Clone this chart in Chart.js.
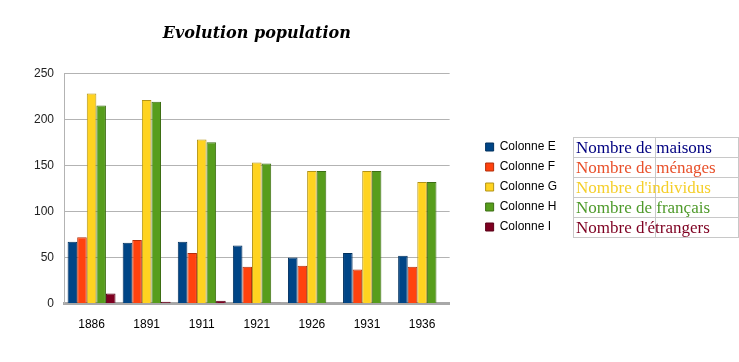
<!DOCTYPE html>
<html>
<head>
<meta charset="utf-8">
<script src="https://cdn.jsdelivr.net/npm/chart.js@4"></script>
<style>
    body { margin: 0; background: #fff; }
    #wrap { position: relative; width: 739px; height: 362px; }
    #infoTable {
        position: absolute; left: 573px; top: 137px;
        border-collapse: collapse;
        font-family: 'Liberation Serif', serif; font-size: 17px;
    }
    #infoTable td {
        border: 1px solid #c8c8c8; height: 19px; padding: 0 0 0 2px;
        white-space: nowrap; line-height: 19px;
    }
    #infoTable td.a { width: 79px; overflow: visible; max-width: 79px; }
    #infoTable td.b { width: 80px; }
</style>
</head>
<body>
<div id="wrap">
    <canvas id="popChart" width="739" height="362"></canvas>
    <table id="infoTable"></table>
</div>
<script>
const years = ['1886', '1891', '1911', '1921', '1926', '1931', '1936'];
const colonneE = [67, 66, 67, 63, 50, 55, 52];
const colonneF = [72, 69, 55, 40, 41, 37, 40];
const colonneG = [228, 221, 178, 153, 144, 144, 132];
const colonneH = [215, 219, 175, 152, 144, 144, 132];
const colonneI = [11, 2, 3, 1, 0, 0, 0];
const seriesNames = ['Colonne E', 'Colonne F', 'Colonne G', 'Colonne H', 'Colonne I'];
const seriesColors = ['#004586', '#ff420e', '#ffd320', '#579d1c', '#7e0021'];
const tableLabels = ['Nombre de maisons', 'Nombre de ménages', "Nombre d'individus", 'Nombre de français', "Nombre d'étrangers"];
const tableColors = ['#000080', '#e8502a', '#f5cf2a', '#4f9a2a', '#7e0021'];

const allSeries = [colonneE, colonneF, colonneG, colonneH, colonneI];

// the little table on the right
const tbl = document.getElementById('infoTable');
tableLabels.forEach(function (txt, i) {
    const tr = document.createElement('tr');
    const td1 = document.createElement('td');
    td1.className = 'a';
    td1.textContent = txt;
    td1.style.color = tableColors[i];
    const td2 = document.createElement('td');
    td2.className = 'b';
    tr.appendChild(td1);
    tr.appendChild(td2);
    tbl.appendChild(tr);
});

function darker(hex) {
    const n = parseInt(hex.slice(1), 16);
    const r = Math.round(((n >> 16) & 255) * 0.7);
    const g = Math.round(((n >> 8) & 255) * 0.7);
    const b = Math.round((n & 255) * 0.7);
    return 'rgb(' + r + ',' + g + ',' + b + ')';
}

const ctx = document.getElementById('popChart');
const popChart = new Chart(ctx, {
    type: 'bar',
    data: {
        labels: years,
        datasets: allSeries.map(function (vals, i) {
            return {
                label: seriesNames[i],
                data: vals,
                backgroundColor: seriesColors[i],
                borderColor: darker(seriesColors[i]),
                borderWidth: 1,
                barPercentage: 1,
                categoryPercentage: 0.87
            };
        })
    },
    options: {
        responsive: false,
        animation: false,
        layout: {
            padding: { left: 24, top: 14, right: 172, bottom: 24 }
        },
        scales: {
            x: {
                grid: { display: false },
                border: { display: true, color: '#a8a8a8', width: 3 },
                ticks: {
                    color: '#000',
                    padding: 6,
                    font: { family: 'Liberation Sans', size: 12 }
                }
            },
            y: {
                min: 0,
                max: 250,
                ticks: {
                    stepSize: 50,
                    color: '#222',
                    padding: 10,
                    font: { family: 'Liberation Sans', size: 12 }
                },
                grid: { color: '#b3b3b3', drawTicks: false },
                border: { display: true, color: '#b3b3b3' }
            },
            gap: {
                position: 'right',
                display: true,
                grid: { display: false },
                border: { display: false },
                ticks: { display: false },
                afterFit: function (scale) { scale.width = 28; }
            }
        },
        plugins: {
            title: {
                display: true,
                text: 'Evolution population',
                fullSize: false,
                color: '#000',
                padding: { top: 10, bottom: 30 },
                font: { family: 'DejaVu Serif', size: 16, weight: 'bold', style: 'italic' }
            },
            legend: {
                display: true,
                position: 'right',
                title: {
                    display: true,
                    text: ' ',
                    padding: { top: 2, bottom: 8 },
                    font: { size: 10 }
                },
                labels: {
                    boxWidth: 8,
                    boxHeight: 8,
                    padding: 8,
                    color: '#000',
                    font: { family: 'Liberation Sans', size: 12 }
                }
            },
            tooltip: { enabled: false }
        }
    }
});
</script>
</body>
</html>
